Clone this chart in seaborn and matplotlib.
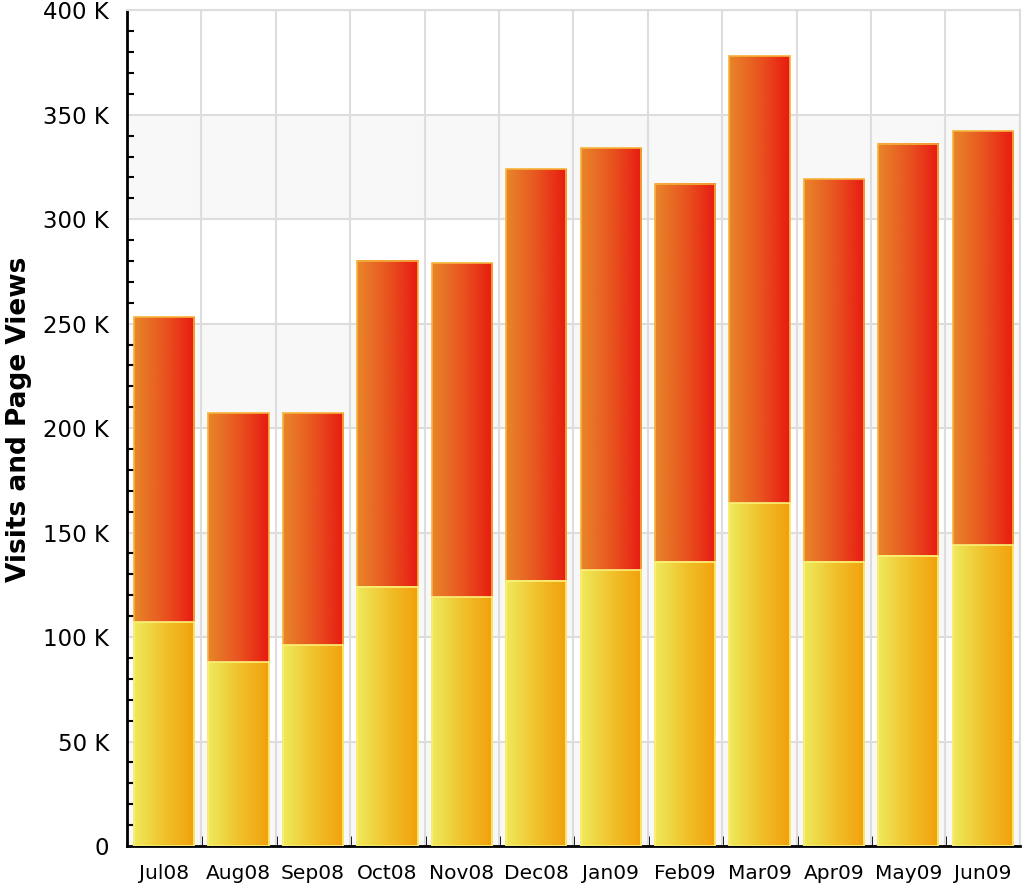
"""
Visits and page views per month - overlapping bars with horizontal gradient fill
"""
import numpy as np
import pandas as pd
import matplotlib
matplotlib.use("Agg")
import matplotlib.pyplot as plt
import seaborn as sns
from matplotlib.colors import LinearSegmentedColormap
from matplotlib.ticker import MultipleLocator, FuncFormatter

# data (thousands)
MONTHS = ["Jul08", "Aug08", "Sep08", "Oct08", "Nov08", "Dec08",
          "Jan09", "Feb09", "Mar09", "Apr09", "May09", "Jun09"]
PAGE_VIEWS = [253, 207, 207, 280, 279, 324, 334, 317, 378, 319, 336, 342]
VISITS = [107, 88, 96, 124, 119, 127, 132, 136, 164, 136, 139, 144]

RED_CMAP = LinearSegmentedColormap.from_list("red", ["#e8862a", "#e85520", "#e81a12"])
YEL_CMAP = LinearSegmentedColormap.from_list("yel", ["#eeea5c", "#f0c22c", "#f2a00c"])

sns.set_theme(style="white")
plt.rcParams['font.family'] = ['DejaVu Sans']
plt.rcParams['text.color'] = 'black'
plt.rcParams['xtick.color'] = 'black'
plt.rcParams['ytick.color'] = 'black'
plt.rcParams['axes.labelcolor'] = 'black'

df = pd.DataFrame({"month": MONTHS,
                   "page_views": np.array(PAGE_VIEWS) * 1000,
                   "visits": np.array(VISITS) * 1000})

fig = plt.figure(figsize=(10.24, 8.91), dpi=100)
ax = fig.add_axes([0.124, 0.0505, 0.872, 0.938])

# alternating background bands
for lo in range(0, 400000, 100000):
    ax.axhspan(lo, lo + 50000, color="#f8f8f8", zorder=0, lw=0)

n_before = len(ax.patches)
sns.barplot(data=df, x="month", y="page_views", color="#e85520",
            width=0.81, ax=ax, zorder=3)
sns.barplot(data=df, x="month", y="visits", color="#f0c22c",
            width=0.81, ax=ax, zorder=3)
bars = ax.patches[n_before:]
n = len(MONTHS)

# horizontal gradient on each bar
grad = np.linspace(0, 1, 256).reshape(1, -1)
for i, p in enumerate(bars):
    cmap = RED_CMAP if i < n else YEL_CMAP
    edge = "#f6b23a" if i < n else "#fbf27a"
    x0, y0 = p.get_x(), p.get_y()
    w, h = p.get_width(), p.get_height()
    z = 3 if i < n else 4
    ax.imshow(grad, cmap=cmap, aspect="auto", extent=[x0, x0 + w, y0, y0 + h],
              zorder=z, interpolation="bilinear")
    p.set_facecolor("none")
    p.set_edgecolor(edge)
    p.set_linewidth(1.2)
    p.set_zorder(z + 0.5)

ax.set_xlim(-0.5, n - 0.5)
ax.set_ylim(0, 400000)

# grid
for xb in np.arange(-0.5, n, 1.0):
    ax.axvline(xb, color="#dddddd", lw=1.5, zorder=1)
for yv in range(50000, 400001, 50000):
    ax.axhline(yv, color="#dddddd", lw=1.5, zorder=1)

# ticks
ax.yaxis.set_major_locator(MultipleLocator(50000))
ax.yaxis.set_minor_locator(MultipleLocator(10000))
ax.yaxis.set_major_formatter(FuncFormatter(lambda v, _: "0" if v == 0 else f"{int(v / 1000)} K"))
ax.tick_params(axis="y", which="major", direction="in", length=8, width=2,
               labelsize=16.5, pad=13, color="black", labelcolor="black")
ax.tick_params(axis="y", which="minor", direction="in", length=5, width=1.5,
               color="black", left=True)
ax.set_xticks(range(n))
ax.set_xticklabels(MONTHS)
ax.set_xticks(np.arange(0.5, n - 1, 1.0), minor=True)
ax.tick_params(axis="x", which="major", length=0, labelsize=14.5, pad=13,
               labelcolor="black")
ax.tick_params(axis="x", which="minor", direction="in", length=7, width=2,
               color="black", bottom=True)

ax.set_xlabel("")
ax.set_ylabel("Visits and Page Views", fontsize=19, fontweight="bold", color="black")
ax.yaxis.set_label_coords(-0.106, 0.511)

for side in ["left", "bottom"]:
    ax.spines[side].set_color("black")
    ax.spines[side].set_linewidth(2)
for side in ["top", "right"]:
    ax.spines[side].set_color("#dddddd")
    ax.spines[side].set_linewidth(1.5)

plt.savefig("out.png", dpi=100)
plt.close()
